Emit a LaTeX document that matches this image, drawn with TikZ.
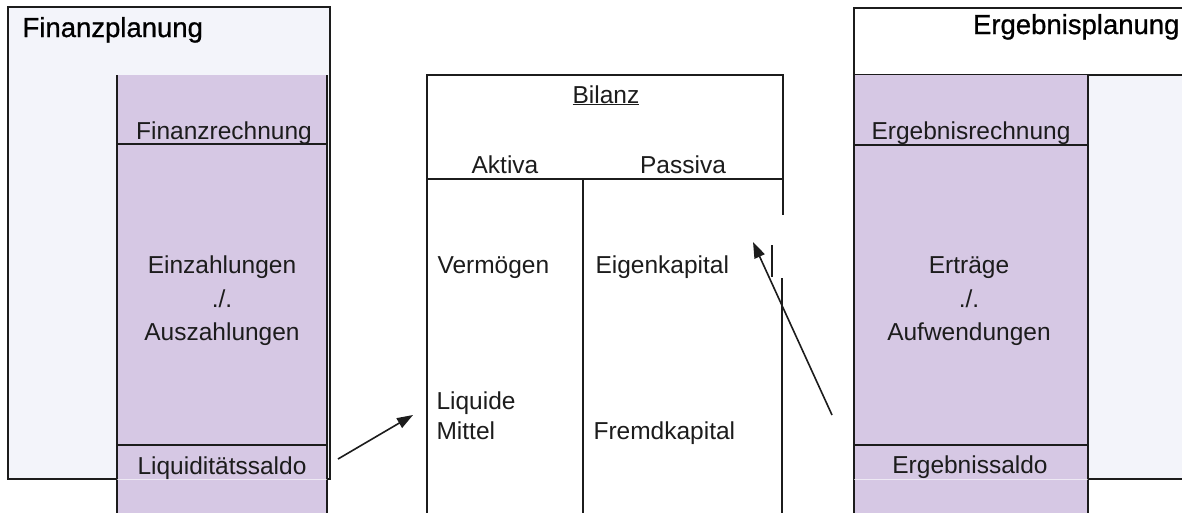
\documentclass[tikz,border=0pt]{standalone}
\usepackage{fontspec}
\setmainfont{Liberation Sans}
\newfontfamily\titlefont[FakeBold=0.8]{Liberation Sans}
\usetikzlibrary{arrows.meta}
\definecolor{lila}{RGB}{214,200,228}
\definecolor{hell}{RGB}{243,244,250}
\definecolor{ink}{RGB}{28,28,28}
\begin{document}
\begin{tikzpicture}[x=1pt,y=-1pt,line width=1.1pt,
  frame/.style={draw=ink},
  txt/.style={font=\fontsize{24.5}{28}\selectfont,text=ink,inner sep=0pt},
  ttl/.style={font=\titlefont\fontsize{27.5}{32}\selectfont,text=black,inner sep=0pt},
  flow/.style={draw=ink,line width=1.6pt,-{Triangle[length=16pt,width=11pt]}}]
\useasboundingbox (0,0) rectangle (1182,512);
\fill[white] (0,0) rectangle (1182,512);
% ---------------- Finanzplanung ----------------
\filldraw[fill=hell,frame] (8,7) rectangle (330,479);
\filldraw[fill=lila,draw=none] (117,75) rectangle (327,514);
\draw[frame] (117,75) -- (117,514);
\draw[frame] (327,75) -- (327,514);
\draw[frame] (117,144) -- (327,144);
\draw[frame] (117,445) -- (327,445);
\draw[white,opacity=0.6,line width=0.8pt] (117,479) -- (327,479);
\node[ttl,anchor=base west] (fp) at (22,37) {Finanzplanung};
\node[txt,anchor=base] (fr) at (224,139) {Finanzrechnung};
\node[txt,anchor=base] (ez1) at (222,273) {Einzahlungen};
\node[txt,anchor=base] (ez2) at (222,307) {./.};
\node[txt,anchor=base] (ez3) at (222,340) {Auszahlungen};
\node[txt,anchor=base] (ls) at (222,474) {Liquiditätssaldo};
% ---------------- Bilanz ----------------
\draw[frame] (427,514) -- (427,75) -- (783,75) -- (783,215);
\draw[frame] (772,245) -- (772,277);
\draw[frame] (782,278) -- (782,514);
\draw[frame] (427,179) -- (783,179);
\draw[frame] (583,179) -- (583,514);
\node[txt,anchor=base] (bil) at (606,103) {\underline{Bilanz}};
\node[txt,anchor=base] (akt) at (505,173) {Aktiva};
\node[txt,anchor=base] (pas) at (683,173) {Passiva};
\node[txt,anchor=base west] (verm) at (437,273) {Vermögen};
\node[txt,anchor=base west] (eig) at (595,273) {Eigenkapital};
\node[txt,anchor=base west] (liq1) at (436,409) {Liquide};
\node[txt,anchor=base west] (liq2) at (436,439) {Mittel};
\node[txt,anchor=base west] (fremd) at (593,439) {Fremdkapital};
% ---------------- Ergebnisplanung ----------------
\filldraw[fill=white,frame] (854,8) rectangle (1190,75);
\filldraw[fill=hell,frame] (1088,75) rectangle (1190,479);
\filldraw[fill=lila,draw=none] (854,75) rectangle (1088,514);
\draw[frame] (854,75) -- (854,514);
\draw[frame] (1088,75) -- (1088,514);
\draw[frame] (854,145) -- (1088,145);
\draw[frame] (854,445) -- (1088,445);
\draw[white,opacity=0.6,line width=0.8pt] (854,479) -- (1088,479);
\node[ttl,anchor=base east] (ep) at (1180,34) {Ergebnisplanung};
\node[txt,anchor=base] (er) at (971,139) {Ergebnisrechnung};
\node[txt,anchor=base] (et1) at (969,273) {Erträge};
\node[txt,anchor=base] (et2) at (969,307) {./.};
\node[txt,anchor=base] (et3) at (969,340) {Aufwendungen};
\node[txt,anchor=base] (es) at (970,473) {Ergebnissaldo};
% ---------------- Pfeile ----------------
\coordinate (a1s) at (338,459);
\coordinate (a1e) at (413,415);
\coordinate (a2s) at (832,415);
\coordinate (a2e) at (753,242);
\draw[flow] (a1s) -- (a1e);
\draw[flow] (a2s) -- (a2e);
\end{tikzpicture}
\end{document}
